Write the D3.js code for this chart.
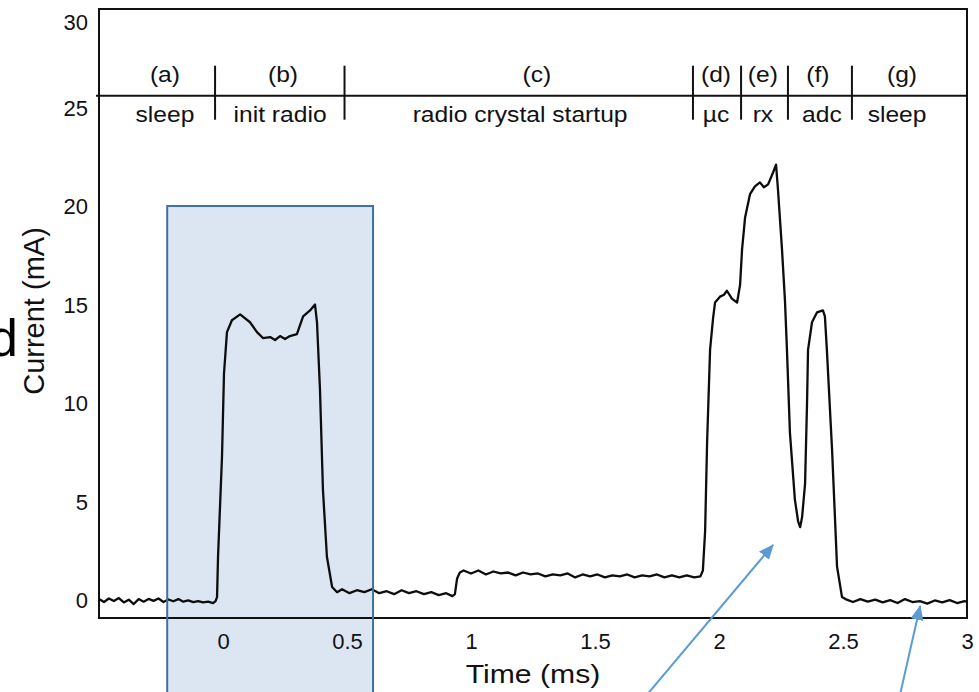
<!DOCTYPE html>
<html>
<head>
<meta charset="utf-8">
<script src="https://cdn.jsdelivr.net/npm/d3@7"></script>
<style>
  body { margin: 0; background: #fff; overflow: hidden; }
  svg { display: block; font-family: "Liberation Sans", Arial, sans-serif; }
</style>
</head>
<body>
<div id="chart"></div>
<script>
// scope trace: time (ms) and supply current (mA)
const timeMs = [
  -0.50, -0.48, -0.46, -0.44, -0.42, -0.40, -0.38, -0.36, -0.34, -0.32, -0.30, -0.28, -0.26,
  -0.24, -0.22, -0.20, -0.18, -0.16, -0.14, -0.12, -0.10, -0.08, -0.06, -0.04, -0.03,
  -0.024, -0.020, -0.004, 0.004, 0.016, 0.036, 0.069, 0.109, 0.137, 0.161, 0.19, 0.21, 0.23,
  0.25, 0.27, 0.298, 0.323, 0.351, 0.371, 0.379, 0.391, 0.403, 0.419, 0.44, 0.46,
  0.48, 0.51, 0.54, 0.57, 0.60, 0.63, 0.66, 0.69, 0.72, 0.75, 0.78, 0.81, 0.84, 0.87, 0.90, 0.925,
  0.935, 0.944, 0.955, 0.97,
  1.00, 1.03, 1.06, 1.09, 1.12, 1.15, 1.18, 1.21, 1.24, 1.27, 1.30, 1.33, 1.36, 1.39, 1.42, 1.45,
  1.48, 1.51, 1.54, 1.57, 1.60, 1.63, 1.66, 1.69, 1.72, 1.75, 1.78, 1.81, 1.84, 1.87, 1.90, 1.925,
  1.935, 1.944, 1.952, 1.964, 1.976, 1.984, 2.004, 2.020, 2.032, 2.052, 2.073, 2.085, 2.093, 2.105,
  2.125, 2.145, 2.165, 2.181, 2.198, 2.218, 2.230, 2.238, 2.254, 2.266, 2.274, 2.286, 2.306, 2.319,
  2.327, 2.335, 2.347, 2.355, 2.359, 2.375, 2.395, 2.419, 2.427, 2.435, 2.456, 2.476, 2.496,
  2.51, 2.54, 2.57, 2.60, 2.63, 2.66, 2.69, 2.72, 2.75, 2.78, 2.81, 2.84, 2.87, 2.90, 2.93, 2.96, 2.99, 3.00
];
const currentMa = [
  0.05, -0.10, 0.08, -0.05, 0.10, -0.12, 0.02, -0.20, 0.05, -0.08, 0.06, -0.04, 0.08,
  -0.10, 0.03, -0.06, 0.05, -0.08, -0.02, -0.10, -0.05, -0.12, -0.08, -0.15, -0.05,
  0.15, 2.2, 7.3, 11.5, 13.6, 14.2, 14.5, 14.1, 13.6, 13.3, 13.35, 13.2, 13.4,
  13.25, 13.4, 13.5, 14.4, 14.7, 15.0, 14.1, 10.7, 5.6, 2.2, 0.66, 0.4,
  0.55, 0.35, 0.50, 0.40, 0.55, 0.35, 0.45, 0.30, 0.50, 0.35, 0.45, 0.30, 0.40, 0.25, 0.35, 0.20,
  0.3, 1.1, 1.4, 1.5,
  1.35, 1.50, 1.30, 1.45, 1.35, 1.40, 1.25, 1.40, 1.30, 1.35, 1.20, 1.30, 1.25, 1.35, 1.15, 1.30,
  1.20, 1.30, 1.15, 1.25, 1.20, 1.30, 1.15, 1.25, 1.20, 1.30, 1.15, 1.25, 1.15, 1.25, 1.15, 1.2,
  1.5, 3.5, 8, 12.7, 14.3, 15.1, 15.4, 15.5, 15.7, 15.3, 15.1, 16.0, 17.8, 19.4,
  20.6, 21.0, 21.2, 20.95, 21.1, 21.7, 22.1, 20.8, 17.8, 15.2, 12.7, 8.5, 5.1, 4.0,
  3.7, 4.2, 5.9, 10, 12.7, 14.1, 14.6, 14.7, 14.4, 12.7, 7.6, 1.7, 0.15,
  0.05, -0.10, 0.05, -0.08, 0.02, -0.12, 0.00, -0.15, 0.05, -0.10, -0.05, -0.18, -0.02, -0.12, 0.00, -0.15, -0.05, -0.1
];

const xTicks = [0, 0.5, 1, 1.5, 2, 2.5, 3];
const yTicks = [0, 5, 10, 15, 20, 25, 30];

// phase strip along the top: boundaries and label positions in ms
const phaseBounds = [-0.032, 0.49, 1.895, 2.089, 2.278, 2.536];
const phaseLetters = ["(a)", "(b)", "(c)", "(d)", "(e)", "(f)", "(g)"];
const letterAt = [-0.234, 0.242, 1.266, 1.988, 2.177, 2.399, 2.738];
const phaseNames = ["sleep", "init radio", "radio crystal startup", "\u00b5c", "rx", "adc", "sleep"];
const nameAt = [-0.234, 0.23, 1.198, 1.988, 2.177, 2.415, 2.718];
const stripLevel = 25.6;

// highlighted window (ms, mA) and callout arrows [tailT, tailC, tipT, tipC]
const highlight = {t0: -0.225, t1: 0.605, top: 20};
const arrows = [[1.71, -4.8, 2.218, 2.8], [2.73, -4.8, 2.811, -0.3]];

const W = 979, H = 692;
const plot = {left: 99, right: 967, top: 9, bottom: 618};

const x = d3.scaleLinear().domain([-0.5, 3.0]).range([plot.left, plot.right]);
const y = d3.scaleLinear().domain([-0.91, 30]).range([plot.bottom, plot.top]);

const svg = d3.select("#chart").append("svg")
    .attr("width", W)
    .attr("height", H);

// stray glyph from the surrounding slide text
svg.append("text")
    .attr("x", 18).attr("y", 356)
    .attr("text-anchor", "end")
    .style("font-size", "52px")
    .style("fill", "#000")
    .text("d");

// highlight box sits behind the trace
svg.append("rect")
    .attr("x", x(highlight.t0))
    .attr("y", y(highlight.top))
    .attr("width", x(highlight.t1) - x(highlight.t0))
    .attr("height", H + 20 - y(highlight.top))
    .attr("fill", "#dce6f2");

// frame
svg.append("rect")
    .attr("x", plot.left).attr("y", plot.top)
    .attr("width", plot.right - plot.left)
    .attr("height", plot.bottom - plot.top)
    .attr("fill", "none")
    .attr("stroke", "#111")
    .attr("stroke-width", 2);

// tick labels only, no tick marks
const xAxis = d3.axisBottom(x).tickValues(xTicks).tickSize(0).tickPadding(15)
    .tickFormat(d => String(d));
svg.append("g")
    .attr("transform", `translate(0,${plot.bottom})`)
    .call(xAxis)
    .call(g => g.select(".domain").remove())
    .selectAll("text")
    .style("font-size", "22px")
    .style("font-family", "Liberation Sans, Arial, sans-serif")
    .attr("fill", "#111");

const yAxis = d3.axisLeft(y).tickValues(yTicks).tickSize(0).tickPadding(11);
svg.append("g")
    .attr("transform", `translate(${plot.left},0)`)
    .call(yAxis)
    .call(g => g.select(".domain").remove())
    .selectAll("text")
    .style("font-size", "22px")
    .style("font-family", "Liberation Sans, Arial, sans-serif")
    .attr("fill", "#111")
    .attr("dy", d => d === 30 ? "0.95em" : "0.35em");

// phase strip
svg.append("line")
    .attr("x1", plot.left - 3).attr("x2", plot.right)
    .attr("y1", y(stripLevel)).attr("y2", y(stripLevel))
    .attr("stroke", "#111").attr("stroke-width", 2);

svg.append("g").selectAll("line")
    .data(phaseBounds)
    .join("line")
    .attr("x1", d => x(d)).attr("x2", d => x(d))
    .attr("y1", y(stripLevel) - 30).attr("y2", y(stripLevel) + 24)
    .attr("stroke", "#111").attr("stroke-width", 2);

function stretchedText(g, tx, ty, str, size, sx) {
    g.append("text")
        .attr("transform", `translate(${tx},${ty}) scale(${sx},1)`)
        .attr("text-anchor", "middle")
        .style("font-size", size + "px")
        .attr("fill", "#111")
        .text(str);
}

const strip = svg.append("g");
phaseLetters.forEach((s, i) => stretchedText(strip, x(letterAt[i]), y(stripLevel) - 14, s, 22, 1.12));
phaseNames.forEach((s, i) => stretchedText(strip, x(nameAt[i]), y(stripLevel) + 26, s, 22, 1.12));

// current trace
const line = d3.line()
    .x((d, i) => x(timeMs[i]))
    .y(d => y(d));

svg.append("path")
    .datum(currentMa)
    .attr("d", line)
    .attr("fill", "none")
    .attr("stroke", "#0d0d0d")
    .attr("stroke-width", 2.3)
    .attr("stroke-linejoin", "round");

// highlight outline on top
svg.append("rect")
    .attr("x", x(highlight.t0))
    .attr("y", y(highlight.top))
    .attr("width", x(highlight.t1) - x(highlight.t0))
    .attr("height", H + 20 - y(highlight.top))
    .attr("fill", "none")
    .attr("stroke", "#41719c")
    .attr("stroke-width", 2);

// axis titles
svg.append("text")
    .attr("transform", `translate(533,683) scale(1.16,1)`)
    .attr("text-anchor", "middle")
    .style("font-size", "26px")
    .attr("fill", "#111")
    .text("Time (ms)");

svg.append("text")
    .attr("transform", `translate(44,311) rotate(-90)`)
    .attr("text-anchor", "middle")
    .style("font-size", "29px")
    .attr("fill", "#111")
    .text("Current (mA)");

// callout arrows
svg.append("defs").append("marker")
    .attr("id", "head")
    .attr("markerUnits", "userSpaceOnUse")
    .attr("viewBox", "0 0 15 13")
    .attr("refX", 14).attr("refY", 6.5)
    .attr("markerWidth", 15).attr("markerHeight", 13)
    .attr("orient", "auto")
    .append("path")
    .attr("d", "M0,0 L15,6.5 L0,13 Z")
    .attr("fill", "#5b9bd5");

svg.append("g").selectAll("line")
    .data(arrows)
    .join("line")
    .attr("x1", d => x(d[0])).attr("y1", d => y(d[1]))
    .attr("x2", d => x(d[2])).attr("y2", d => y(d[3]))
    .attr("stroke", "#5b9bd5")
    .attr("stroke-width", 2)
    .attr("marker-end", "url(#head)");
</script>
</body>
</html>
